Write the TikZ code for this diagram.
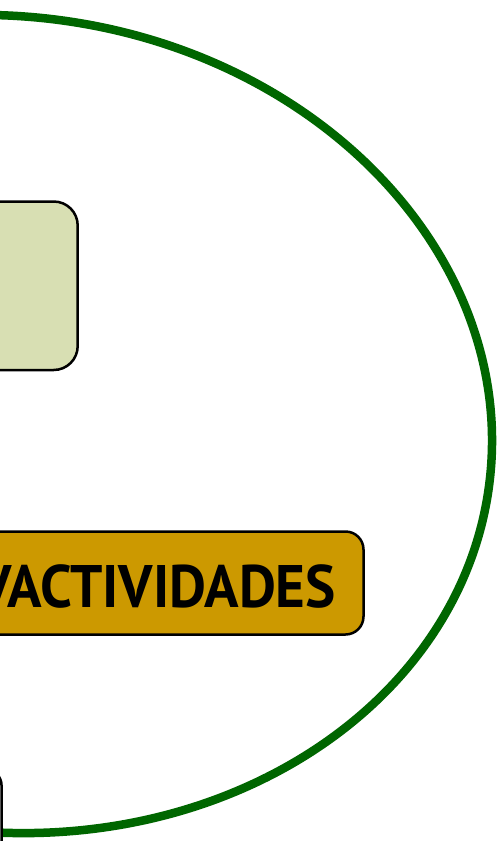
\documentclass[tikz,border=0pt]{standalone}
\usepackage{fontspec}
\setmainfont{PT Sans}
\definecolor{ringgreen}{HTML}{006600}
\definecolor{olivefill}{HTML}{D8DFB3}
\definecolor{goldfill}{HTML}{CC9900}
\tikzset{
  ring/.style={draw=ringgreen, line width=8.5pt},
  panel/.style={draw=black, line width=2.5pt, rectangle, inner sep=0pt},
  label/.style={font=\fontsize{60}{60}\selectfont\bfseries, inner sep=0pt, text=black}
}
\begin{document}
\begin{tikzpicture}[x=1pt,y=-1pt]
\useasboundingbox (0,0) rectangle (497,841);
\clip (0,0) rectangle (497,841);
\fill[white] (0,0) rectangle (497,841);
\coordinate (c) at (2.5,424);
\draw[ring, rotate around={-6.5:(c)}] (c) ellipse [x radius=490.5, y radius=407.9];
\node[panel, fill=olivefill, rounded corners=24pt, minimum width=177.7pt, minimum height=168.5pt] (olive) at (-11.15,285.75) {};
\node[panel, fill=goldfill, rounded corners=18pt, minimum width=483.5pt, minimum height=103pt] (gold) at (121.75,583) {};
\node[label, anchor=base east] (txt) at (336,607) {\scalebox{0.95}[1]{VACTIVIDADES}};
\node[panel, fill=white, rounded corners=15pt, minimum width=101.5pt, minimum height=130pt] (lower) at (-49.25,835) {};
\end{tikzpicture}
\end{document}
